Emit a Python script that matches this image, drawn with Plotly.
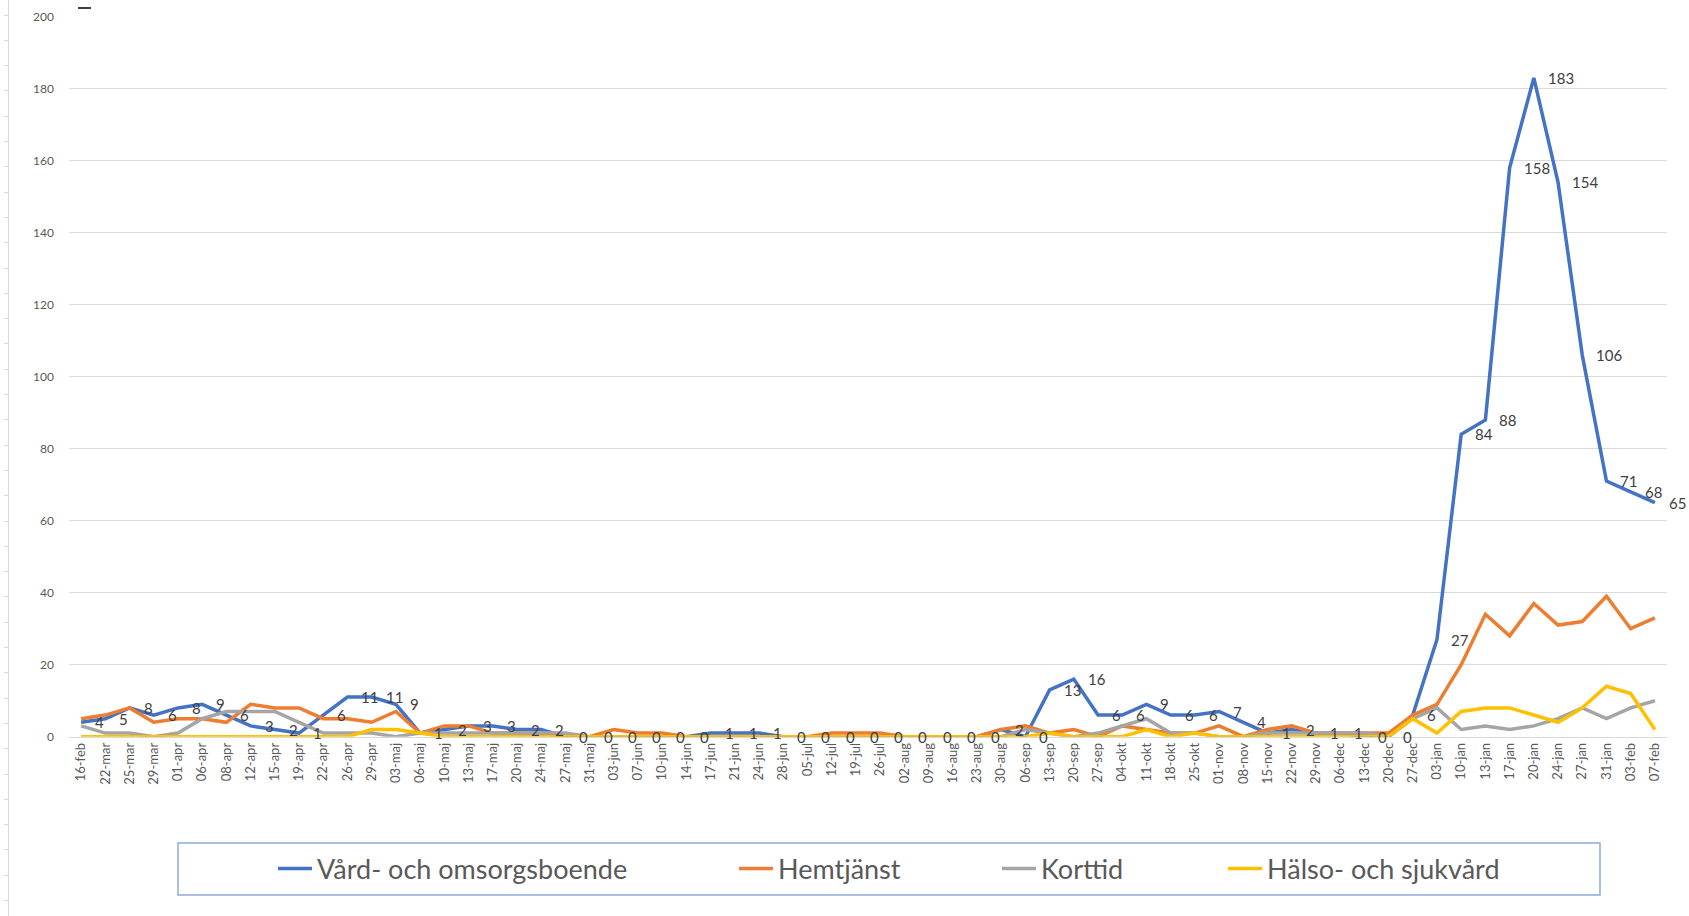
import plotly.graph_objects as go

categories = ["16-feb","22-mar","25-mar","29-mar","01-apr","06-apr","08-apr","12-apr","15-apr","19-apr",
              "22-apr","26-apr","29-apr","03-maj","06-maj","10-maj","13-maj","17-maj","20-maj","24-maj",
              "27-maj","31-maj","03-jun","07-jun","10-jun","14-jun","17-jun","21-jun","24-jun","28-jun",
              "05-jul","12-jul","19-jul","26-jul","02-aug","09-aug","16-aug","23-aug","30-aug","06-sep",
              "13-sep","20-sep","27-sep","04-okt","11-okt","18-okt","25-okt","01-nov","08-nov","15-nov",
              "22-nov","29-nov","06-dec","13-dec","20-dec","27-dec","03-jan","10-jan","13-jan","17-jan",
              "20-jan","24-jan","27-jan","31-jan","03-feb","07-feb"]

vard = [4,5,8,6,8,9,6,3,2,1,6,11,11,9,1,2,3,3,2,2,0,0,0,0,0,0,1,1,1,0,
        0,0,0,0,0,0,0,0,2,0,13,16,6,6,9,6,6,7,4,1,2,1,1,0,0,6,
        27,84,88,158,183,154,106,71,68,65]
hemtjanst = [5,6,8,4,5,5,4,9,8,8,5,5,4,7,1,3,3,1,1,1,0,0,2,1,1,0,0,0,0,0,
             0,1,1,1,0,0,0,0,2,3,1,2,0,3,2,1,1,3,0,2,3,1,1,1,1,6,
             9,20,34,28,37,31,32,39,30,33]
korttid = [3,1,1,0,1,5,7,7,7,4,1,1,1,0,1,1,1,1,1,1,1,0,0,0,0,0,0,0,0,0,
           0,0,0,0,0,0,0,0,0,2,1,0,1,3,5,1,1,0,0,1,1,1,1,1,0,5,
           8,2,3,2,3,5,8,5,8,10]
halso = [0,0,0,0,0,0,0,0,0,0,0,0,2,2,1,0,0,0,0,0,0,0,0,0,0,0,0,0,0,0,
         0,0,0,0,0,0,0,0,0,0,1,0,0,0,2,0,1,0,0,0,0,0,0,0,0,5,
         1,7,8,8,6,4,8,14,12,2]

series_names = ["Vård- och omsorgsboende", "Hemtjänst", "Korttid", "Hälso- och sjukvård"]
series_values = [vard, hemtjanst, korttid, halso]
series_colors = ["#4472C4", "#ED7D31", "#A5A5A5", "#FFC000"]
legend_ids = ["legend", "legend2", "legend3", "legend4"]
legend_starts = [278, 739, 1002, 1228]  # page px where each legend entry begins

W, H = 1689, 916
L = 9
PW = W - L

def px_x(p):
    return (p - L) / PW

def px_y(p):
    return (H - p) / H

FONT = "Lato, Open Sans, sans-serif"

fig = go.Figure()
for name, vals, col, lid in zip(series_names, series_values, series_colors, legend_ids):
    fig.add_trace(go.Scatter(x=categories, y=vals, name=name, mode="lines",
                             line=dict(color=col, width=3.5), xaxis="x", yaxis="y", legend=lid))

# helper trace for the faint decorative axis at the far left
fig.add_trace(go.Scatter(x=[0], y=[0], xaxis="x2", yaxis="y2", mode="markers",
                         marker=dict(opacity=0), showlegend=False, hoverinfo="skip"))

annotations = []
for c, v in zip(categories, vard):
    annotations.append(dict(x=c, y=v, xref="x", yref="y", text=str(v), showarrow=False,
                            xanchor="left", yanchor="middle", xshift=12,
                            font=dict(family=FONT, size=15, color="#404040")))

legends = {}
for lid, start in zip(legend_ids, legend_starts):
    legends[lid] = dict(orientation="h", x=px_x(start - 5), y=px_y(869), xanchor="left", yanchor="middle",
                        font=dict(family=FONT, size=27, color="#595959"), bgcolor="rgba(0,0,0,0)",
                        borderwidth=0, itemwidth=34)

fig.update_layout(
    width=W, height=H,
    margin=dict(l=L, r=0, t=0, b=0, autoexpand=False),
    paper_bgcolor="white", plot_bgcolor="white",
    font=dict(family=FONT, color="#595959"),
    xaxis=dict(type="category", domain=[px_x(69), px_x(1667)], range=[-0.5, len(categories) - 0.5],
               anchor="y", tickangle=-90, tickfont=dict(size=13, color="#595959"),
               showgrid=False, showline=True, linecolor="#D9D9D9", linewidth=1, ticks="",
               zeroline=False, automargin=False),
    yaxis=dict(domain=[px_y(736.7), px_y(16.7)], range=[0, 200], dtick=20, anchor="x",
               showgrid=True, gridcolor="#D9D9D9", gridwidth=1, zeroline=False,
               tickfont=dict(size=12, color="#595959"), ticks="", ticklabelstandoff=14,
               automargin=False),
    xaxis2=dict(domain=[0, 0.001], visible=False, anchor="y2", automargin=False),
    yaxis2=dict(domain=[0, 1], anchor="x2", range=[0, H], showline=True, linecolor="#D9D9D9",
                linewidth=1, ticks="outside", ticklen=4, tickcolor="#D9D9D9", tick0=15.5, dtick=25.3,
                showticklabels=False, showgrid=False, zeroline=False, fixedrange=True,
                automargin=False),
    showlegend=True,
    annotations=annotations,
    shapes=[
        dict(type="rect", xref="paper", yref="paper", x0=px_x(178), x1=px_x(1600),
             y0=px_y(895), y1=px_y(843), line=dict(color="#8FAADC", width=1.5), fillcolor="rgba(0,0,0,0)"),
        dict(type="line", xref="paper", yref="paper", x0=px_x(78), x1=px_x(91),
             y0=px_y(8), y1=px_y(8), line=dict(color="black", width=1.5)),
    ],
    **legends,
)

fig.write_html("out.html", config={"displayModeBar": False},
               post_script="document.body.style.margin='0';document.body.style.overflow='hidden';")
